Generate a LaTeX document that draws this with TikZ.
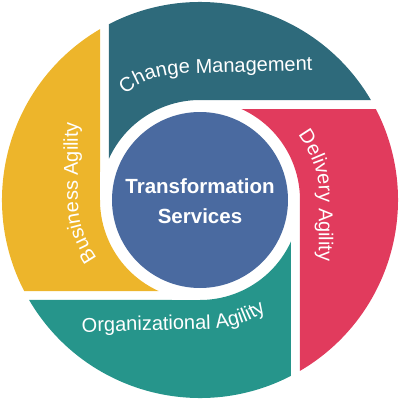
\documentclass[tikz,border=0pt]{standalone}
\usepackage{fontspec}
\setmainfont{Liberation Sans}
\usetikzlibrary{decorations.text}
\definecolor{cmteal}{HTML}{2E6A7B}
\definecolor{dared}{HTML}{E13B5D}
\definecolor{bayellow}{HTML}{EDB52B}
\definecolor{oagreen}{HTML}{26958B}
\definecolor{tsblue}{HTML}{4A6AA0}
\tikzset{
  segment/.pic={
    \fill[pic actions] (-91,41.46) -- (-91,175.85)
      arc[start angle=117.36, end angle=30.33, radius=198pt]
      -- (0,100)
      arc[start angle=90, end angle=155.51, radius=100pt] -- cycle;
  },
  curvedlabel/.style 2 args={decorate, decoration={text along path, text align={left indent=#2}, text color=white,
      text={|\fontsize{20}{20}\selectfont|#1}}},
  centertext/.style={text=white, font=\bfseries\fontsize{20.5}{20.5}\selectfont, anchor=base, inner sep=0pt}
}
\begin{document}
\begin{tikzpicture}[x=1pt,y=1pt]
\useasboundingbox (-200,-200) rectangle (200,200);
\pic[fill=cmteal] {segment};
\pic[fill=dared, rotate=-90] {segment};
\pic[fill=oagreen, rotate=180] {segment};
\pic[fill=bayellow, rotate=90] {segment};
\node[circle, fill=tsblue, minimum size=176pt, inner sep=0pt] (core) at (0,0) {};
\node[centertext] (t1) at (0,7) {Transformation};
\node[centertext] (t2) at (0,-23) {Services};
\path[curvedlabel={Change Management}{4pt}] (-78,103) .. controls (-55,125) and (-25,127) .. (0,127) -- (130,130);
\path[curvedlabel={Delivery Agility}{0pt}] (98,65) .. controls (110,48) and (119,30) .. (119,5) -- (119,-80);
\path[curvedlabel={Organizational Agility}{0pt}] (-118,-132) -- (5,-129) .. controls (35,-129) and (60,-120) .. (85,-95);
\path[curvedlabel={Business Agility}{0pt}] (-103,-58) .. controls (-114,-42) and (-122,-25) .. (-122,0) -- (-122,110);
\end{tikzpicture}
\end{document}
